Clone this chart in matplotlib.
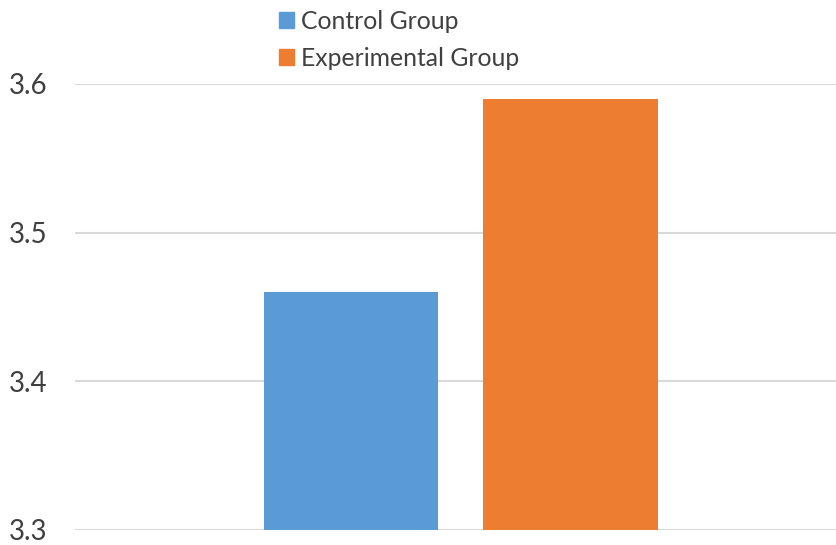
import matplotlib.pyplot as plt
from matplotlib.patches import Patch

groups = ["Control Group", "Experimental Group"]
values = [3.46, 3.59]
colors = ["#5b9bd5", "#ed7d31"]
yticks = [3.3, 3.4, 3.5, 3.6]

plt.rcParams['font.family'] = ['Lato', 'DejaVu Sans']

fig = plt.figure(figsize=(8.37, 5.45), dpi=100)
ax = fig.add_axes([75 / 837, 15 / 545, 1 - 75 / 837, (530 - 84) / 545])

xpos = [-0.5, 0.5]
ax.bar(xpos, values, width=0.793, color=colors, zorder=3)
ax.set_xlim(-1.757, 1.714)
ax.set_ylim(3.3, 3.6)
ax.set_yticks(yticks)
ax.set_yticklabels([f"{t:.1f}" for t in yticks], fontsize=20, color="#404040")
ax.set_xticks([])
ax.grid(axis='y', color="#d9d9d9", linewidth=1.5, zorder=0)
ax.tick_params(axis='y', length=0, pad=20)
for s in ax.spines.values():
    s.set_visible(False)

handles = [Patch(color=c) for c in colors]
fig.legend(handles, groups, loc='upper left', bbox_to_anchor=(257 / 837, 1 + 12.5 / 545),
           frameon=False, fontsize=17.8, labelcolor="#404040",
           handlelength=0.61, handleheight=0.61, handletextpad=0.28, labelspacing=0.56)

fig.savefig("out.png", dpi=100)
